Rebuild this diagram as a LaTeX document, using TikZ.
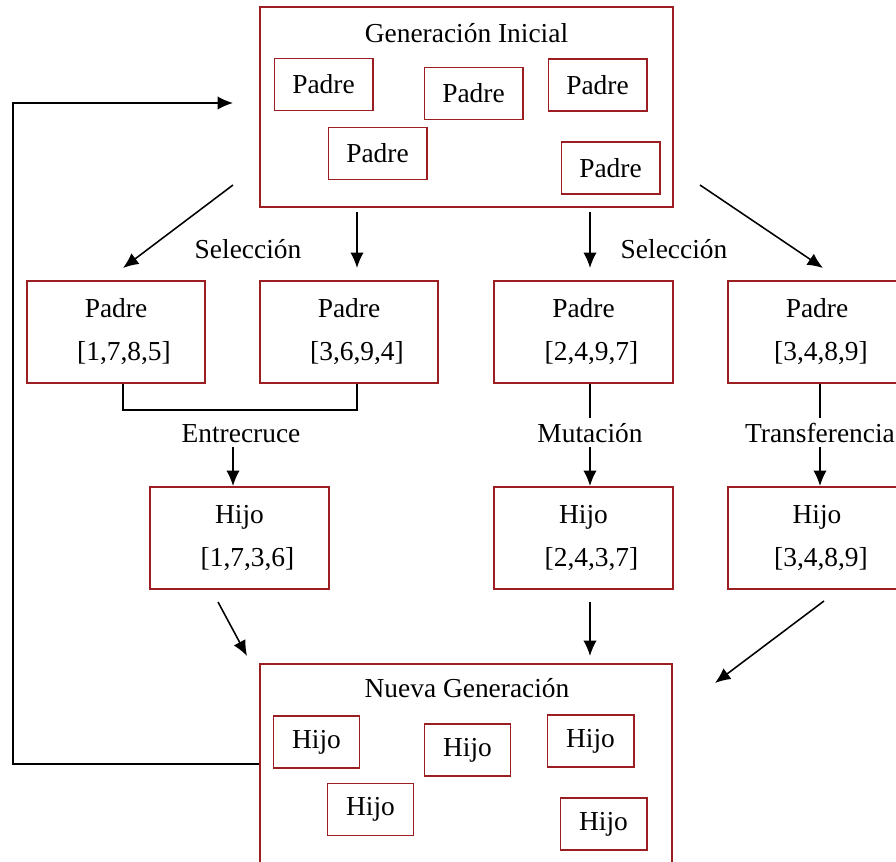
\documentclass[tikz,border=0pt]{standalone}
\usepackage{fontspec}
\setmainfont{Liberation Serif}
\usetikzlibrary{arrows.meta}
\definecolor{mred}{RGB}{155,30,35}

\begin{document}
\begin{tikzpicture}[x=0.025cm, y=-0.025cm,
    font=\fontsize{19.5}{30.5}\selectfont,
    marco/.style={draw=mred, line width=1.4pt, minimum width=10.3cm, minimum height=5cm, inner sep=0pt},
    caja/.style={draw=mred, line width=1.4pt, minimum width=4.45cm, minimum height=2.55cm, align=center, inner sep=0pt},
    cajita/.style={draw=mred, line width=1.4pt, minimum width=2.45cm, minimum height=1.3cm, inner sep=0pt},
    hijito/.style={cajita, minimum width=2.15cm},
    flecha/.style={line width=1.1pt, -{Latex[length=11pt, width=9.5pt]}},
    linea/.style={line width=1.1pt}]
    \clip (0,0) rectangle (896,862);

    % generacion inicial
    \node [marco] (ini) at (466.5,107) {};
    \node [anchor=base] (titini) at (466.5,42) {Generación Inicial};
    \node [cajita] (ip1) at (323.5,84.5) {Padre};
    \node [cajita] (ip2) at (473.5,93.5) {Padre};
    \node [cajita] (ip3) at (597.5,85) {Padre};
    \node [cajita] (ip4) at (377.5,153.5) {Padre};
    \node [cajita] (ip5) at (610.5,168) {Padre};

    % padres seleccionados
    \node [caja] (pA) at (116,332) {Padre\\\hspace*{0.4cm}[1,7,8,5]};
    \node [caja] (pB) at (349,332) {Padre\\\hspace*{0.4cm}[3,6,9,4]};
    \node [caja] (pC) at (583.5,332) {Padre\\\hspace*{0.4cm}[2,4,9,7]};
    \node [caja] (pD) at (817,332) {Padre\\\hspace*{0.2cm}[3,4,8,9]};
    \node [anchor=base] (sel1) at (248,258) {Selección};
    \node [anchor=base] (sel2) at (674,258) {Selección};

    % hijos
    \node [caja] (hA) at (239.5,538) {Hijo\\\hspace*{0.4cm}[1,7,3,6]};
    \node [caja] (hB) at (583.5,538) {Hijo\\\hspace*{0.4cm}[2,4,3,7]};
    \node [caja] (hC) at (817,538) {Hijo\\\hspace*{0.2cm}[3,4,8,9]};
    \node [anchor=base] (entre) at (241,442) {Entrecruce};
    \node [anchor=base] (mut) at (590,442) {Mutación};
    \node [anchor=base] (trans) at (820,442) {Transferencia};

    % nueva generacion
    \node [marco] (nueva) at (466,764) {};
    \node [anchor=base] (titnue) at (467,697) {Nueva Generación};
    \node [hijito] (nh1) at (316.5,742) {Hijo};
    \node [hijito] (nh2) at (467.5,750) {Hijo};
    \node [hijito] (nh3) at (590.5,741) {Hijo};
    \node [hijito] (nh4) at (370.5,809.5) {Hijo};
    \node [hijito] (nh5) at (603.5,824) {Hijo};

    % extremos libres
    \coordinate (s1) at (233,185);   \coordinate (e1) at (123,268);
    \coordinate (s2) at (357,212);   \coordinate (e2) at (357,268);
    \coordinate (s3) at (590,212);   \coordinate (e3) at (590,268);
    \coordinate (s4) at (700,185);   \coordinate (e4) at (823,268);
    \coordinate (s5) at (218,602);   \coordinate (e5) at (247,656);
    \coordinate (s6) at (590,602);   \coordinate (e6) at (590,656);
    \coordinate (s7) at (824,601);   \coordinate (e7) at (715,683);
    \coordinate (cruce) at (240,410);
    \coordinate (lazo) at (13,103);
    \coordinate (vuelta) at (233,103);

    \foreach \a/\b in {s1/e1, s2/e2, s3/e3, s4/e4, s5/e5, s6/e6, s7/e7}
      \draw [flecha] (\a) -- (\b);

    \draw [linea] ([xshift=0.18cm]pA.south) |- (cruce) -| ([xshift=0.2cm]pB.south);
    \draw [flecha] ([xshift=-0.2cm]entre.south) -- ([xshift=-0.2cm]entre.south |- hA.north);
    \draw [linea] (pC.south -| mut.north) -- (mut.north);
    \draw [flecha] (mut.south) -- (mut.south |- hB.north);
    \draw [linea] (pD.south -| trans.north) -- (trans.north);
    \draw [flecha] (trans.south) -- (trans.south |- hC.north);
    \draw [flecha] (nueva.west) -| (lazo) -- (vuelta);% lazo de vuelta
  \end{tikzpicture}
\end{document}
